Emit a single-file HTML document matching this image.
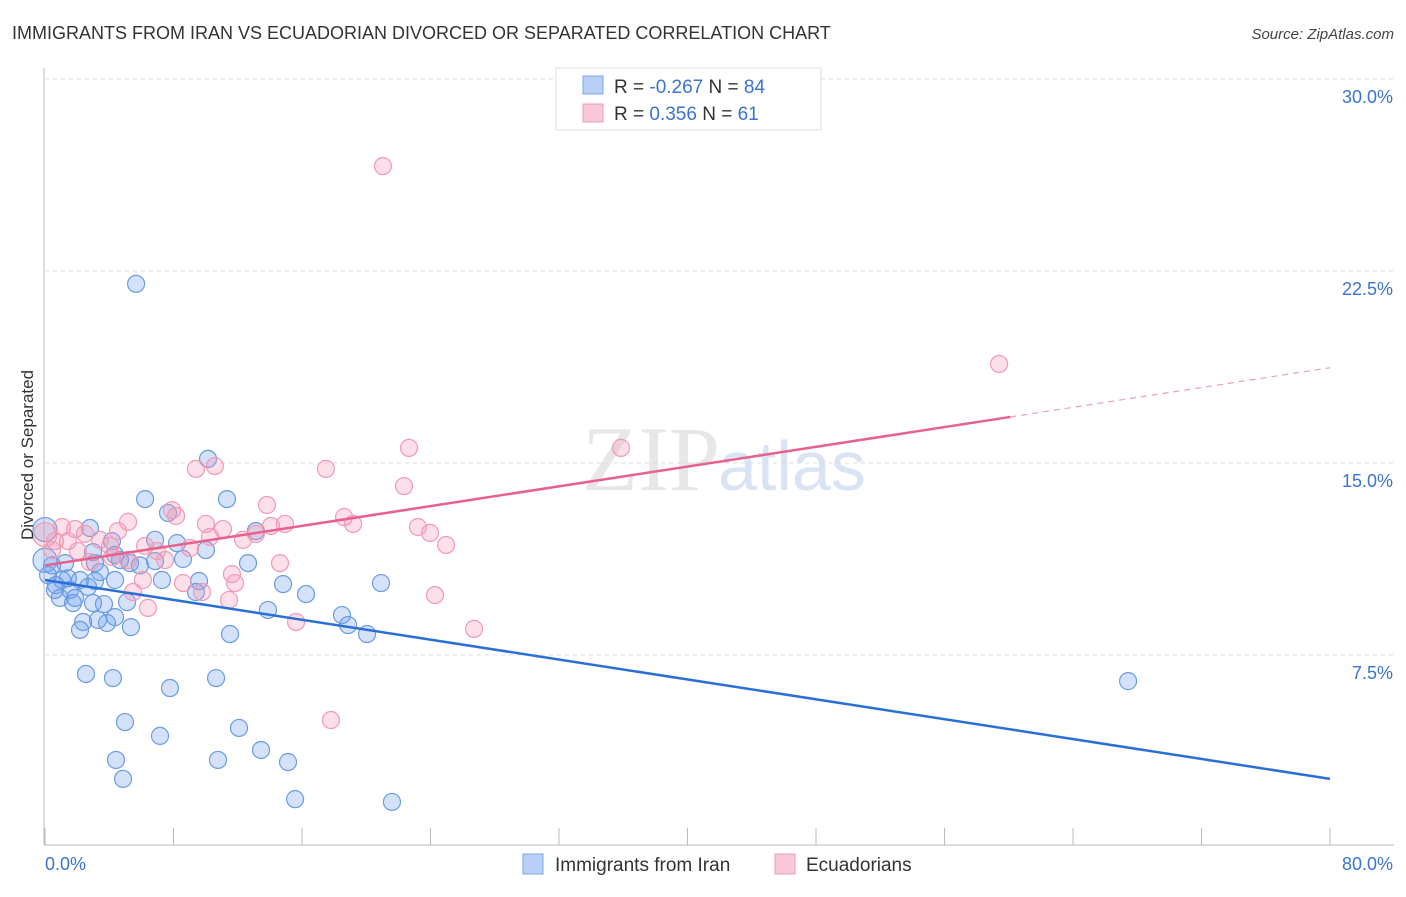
<!DOCTYPE html>
<html><head><meta charset="utf-8"><style>
body{margin:0;background:#fff;font-family:"Liberation Sans",sans-serif}
</style></head><body>
<svg id="c" width="1406" height="892" xmlns="http://www.w3.org/2000/svg" style="font-family:'Liberation Sans',sans-serif">
<text x="12" y="39" font-size="18" fill="#333">IMMIGRANTS FROM IRAN VS ECUADORIAN DIVORCED OR SEPARATED CORRELATION CHART</text>
<text x="1394" y="39" font-size="15" fill="#444" text-anchor="end" font-style="italic">Source: ZipAtlas.com</text>
<text x="720" y="490" font-size="92" fill="#ddd" text-anchor="end" font-family="Liberation Serif" opacity="0.7">ZIP</text>
<text x="718" y="490" font-size="70" fill="#c9d8ef" opacity="0.7">atlas</text>
<g id="grid"></g><g id="pts"></g><g id="lines"></g>
<text transform="translate(33,455) rotate(-90)" font-size="17" fill="#333" text-anchor="middle">Divorced or Separated</text>
<g>
<rect x="556" y="68" width="265" height="62" fill="#fff" stroke="#ddd"/>
<rect x="583" y="76" width="20" height="18" fill="#b8d0f5" stroke="#7aa6e8"/>
<rect x="583" y="104" width="20" height="18" fill="#f9c8d8" stroke="#f09ab5"/>
<text x="614" y="93" font-size="19" fill="#333">R = <tspan fill="#3a74d0">-0.267</tspan>   N = <tspan fill="#3a74d0">84</tspan></text>
<text x="614" y="120" font-size="19" fill="#333">R =  <tspan fill="#3a74d0">0.356</tspan>   N =  <tspan fill="#3a74d0">61</tspan></text>
</g>
<g>
<rect x="523" y="854" width="20" height="20" fill="#b8d0f5" stroke="#7aa6e8"/>
<text x="555" y="871" font-size="19" fill="#333">Immigrants from Iran</text>
<rect x="775" y="854" width="20" height="20" fill="#f9c8d8" stroke="#f09ab5"/>
<text x="806" y="871" font-size="19" fill="#333">Ecuadorians</text>
</g>
</svg>
<script>
const blueX=[5.67,10.15,6.23,11.33,7.66,2.80,0,13.13,4.17,6.85,8.22,2.99,4.36,10.02,5.29,6.85,8.59,12.64,0.44,1.25,3.42,0.19,1.06,2.18,3.11,4.36,7.28,9.59,14.82,20.92,0.62,1.56,0.93,1.74,3.67,5.11,9.40,16.25,13.88,18.49,18.87,2.99,3.30,4.36,3.86,2.37,2.18,5.35,11.52,20.05,2.55,4.23,7.78,10.65,4.98,7.16,12.08,4.42,10.77,13.45,15.13,4.86,15.57,21.60,67.43,3.11,4.67,5.91,1.43,2.68,0.68,0,1.87];
const blueY=[22.0,15.16,13.59,13.59,13.05,12.46,12.4,12.34,11.95,12.0,11.87,11.52,11.41,11.6,11.09,11.17,11.25,11.09,11.0,11.09,10.74,10.62,10.43,10.43,10.39,10.43,10.43,10.39,10.27,10.31,10.04,10.04,9.73,9.53,9.49,9.57,9.96,9.88,9.26,9.06,8.67,9.53,8.87,8.98,8.75,8.79,8.48,8.59,8.32,8.32,6.76,6.60,6.21,6.60,4.88,4.34,4.65,3.40,3.40,3.79,3.32,2.66,1.87,1.76,6.48,11.09,11.21,11.0,10.5,10.16,10.23,11.2,9.73];
const pinkX=[21.04,59.40,22.66,35.86,9.40,10.58,17.49,22.35,13.82,7.91,8.16,18.62,19.18,5.17,10.02,11.08,14.07,14.94,23.22,23.97,24.97,1.06,1.87,2.49,4.54,0.62,1.43,3.42,4.05,6.23,6.97,9.03,10.27,12.33,13.13,2.05,2.80,5.17,14.63,11.64,11.83,6.10,8.59,5.48,9.77,11.46,6.41,24.28,15.63,26.71,17.80,0,0.44,4.17,7.47];
const pinkY=[26.6,18.87,15.59,15.59,14.77,14.88,14.77,14.10,13.36,13.16,12.93,12.89,12.62,12.70,12.62,12.42,12.54,12.62,12.5,12.27,11.80,12.5,12.42,12.23,12.34,11.95,11.95,12.0,11.76,11.76,11.56,11.68,12.11,12.0,12.23,11.56,11.13,11.21,11.09,10.66,10.31,10.43,10.31,9.96,9.96,9.65,9.34,9.84,8.79,8.52,4.96,12.2,11.6,11.33,11.21];
const yTicks=[7.5,15.0,22.5,30.0];
const xTickLabels=["0.0%","80.0%"];
const blueFit=[10.43,-0.0971]; // intercept, slope
const pinkFit=[11.0,0.0965];
const pinkSolidEnd=60.1;
const NS="http://www.w3.org/2000/svg";
const X=v=>45+v/80*1285, Y=v=>847-v*25.6;
function mk(t,a,p){const e=document.createElementNS(NS,t);for(const k in a)e.setAttribute(k,a[k]);p.appendChild(e);return e;}
const g=document.getElementById('grid'),svg=document.getElementById('c');
yTicks.forEach(t=>{
 const l=mk('line',{x1:45,x2:1394,y1:Y(t),y2:Y(t),stroke:'#ddd','stroke-dasharray':'4,4'},g);
 
 
 const tx=mk('text',{x:1393,y:Y(t)+24,'font-size':18,fill:'#3a74d0','text-anchor':'end'},g);tx.textContent=t.toFixed(1)+'%';
 
 
});
const ax=mk('line',{x1:44,x2:44,y1:68,y2:845,stroke:'#bbb'},g);


const bx=mk('line',{x1:44,x2:1394,y1:845,y2:845,stroke:'#bbb'},g);


for(let i=0;i<=10;i++){const t=mk('line',{x1:X(i*8),x2:X(i*8),y1:828,y2:845,stroke:'#bbb'},g);
 
 }
[[0,'start',45],[80,'end',1393]].forEach((d,i)=>{const t=mk('text',{x:d[2],y:870,'font-size':18,fill:'#3a74d0','text-anchor':d[1]},g);t.textContent=xTickLabels[i];
 
 });
const p=document.getElementById('pts');
blueX.forEach((v,i)=>{const c=mk('circle',{cx:X(v),cy:Y(blueY[i]),r:(v===0?12:8.5),fill:'rgba(110,160,235,0.3)',stroke:'#6a9be3','stroke-width':1.2},p);
 
 });
pinkX.forEach((v,i)=>{const c=mk('circle',{cx:X(v),cy:Y(pinkY[i]),r:(v===0?12:8.5),fill:'rgba(245,150,180,0.3)',stroke:'#f09ab5','stroke-width':1.2},p);
 
 });
const L=document.getElementById('lines');
const b=mk('line',{x1:X(0),y1:Y(blueFit[0]),x2:X(80),y2:Y(blueFit[0]+blueFit[1]*80),stroke:'#2a6fd6','stroke-width':2.5},L);


const pk=mk('line',{x1:X(0),y1:Y(pinkFit[0]),x2:X(pinkSolidEnd),y2:Y(pinkFit[0]+pinkFit[1]*pinkSolidEnd),stroke:'#e8608c','stroke-width':2.5},L);


const pd=mk('line',{x1:X(pinkSolidEnd),y1:Y(pinkFit[0]+pinkFit[1]*pinkSolidEnd),x2:X(80),y2:Y(pinkFit[0]+pinkFit[1]*80),stroke:'#e8a0b8','stroke-width':1.2,'stroke-dasharray':'6,5'},L);


</script>
</body></html>
